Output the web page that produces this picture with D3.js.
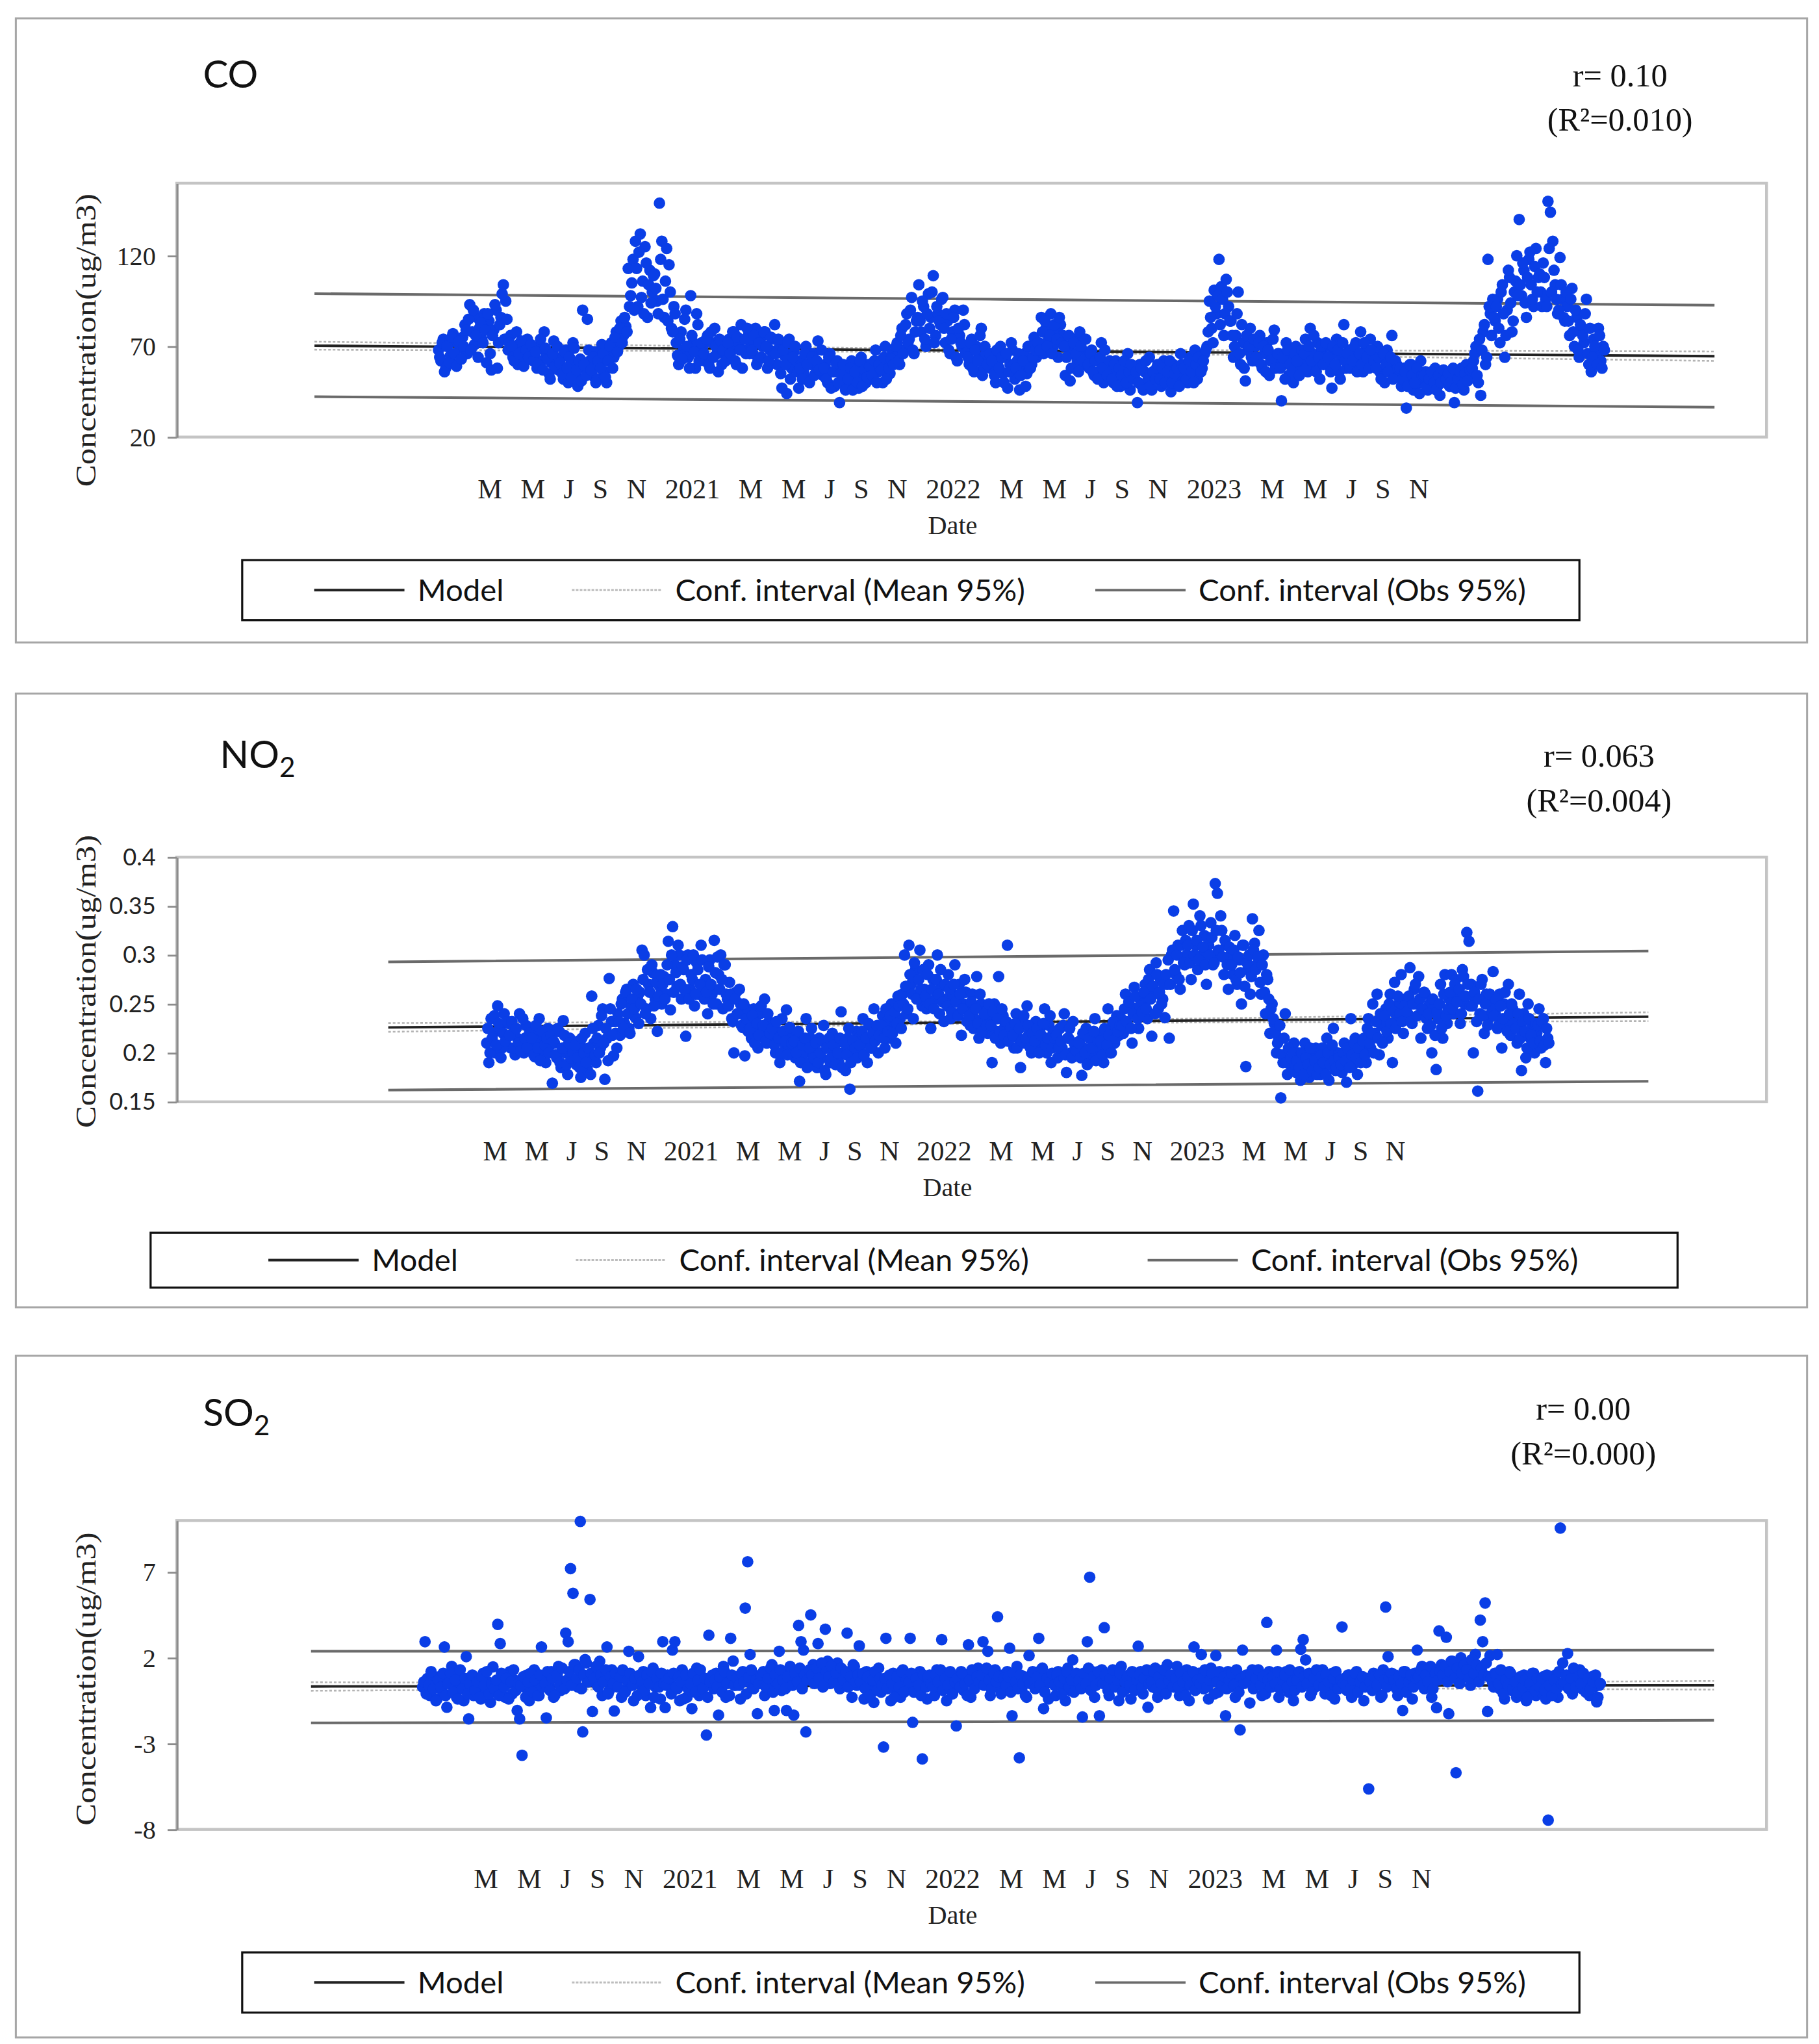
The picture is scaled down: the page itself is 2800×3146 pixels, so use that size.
<!DOCTYPE html>
<html>
<head>
<meta charset="utf-8">
<script src="https://cdn.jsdelivr.net/npm/d3@7"></script>
<style>
  body { margin: 0; background: #fff; }
  svg { display: block; }
</style>
</head>
<body>
<div id="chart"></div>
<script>
// x tick labels (same for all three panels)
const tickLabels = ["M", "M", "J", "S", "N", "2021", "M", "M", "J", "S", "N", "2022",
  "M", "M", "J", "S", "N", "2023", "M", "M", "J", "S", "N"];

// observations starting March 2020, one row per month.
// series A is read every 3 days, series B on the days in between.
const stepDays = 3;
const offsetB = 1.5;

const coValues = [
  68, 62, 74, 58, 71, 65, 77, 60, 72, 69,
  75, 82, 66, 93, 78, 71, 86, 80, 74, 88,
  61, 84, 57, 79, 90, 72, 86, 104, 95, 68,
  76, 64, 70, 60, 72, 67, 62, 74, 65, 69,
  64, 58, 70, 62, 78, 66, 55, 61, 73, 60,
  57, 64, 52, 68, 50, 60, 72, 55, 48, 63,
  90, 58, 85, 62, 54, 67, 52, 60, 71, 56,
  50, 66, 72, 64, 78, 70, 84, 76, 81, 113,
  98, 118, 128, 92, 132, 106, 125, 86, 112, 100,
  110, 95, 149, 128, 86, 124, 115, 80, 92, 72,
  60, 78, 68, 90, 64, 98, 72, 58, 82, 66,
  70, 62, 76, 58, 72, 80, 66, 74, 60, 70,
  64, 74, 70, 78, 60, 72, 82, 68, 66, 76,
  72, 66, 80, 62, 74, 70, 78, 58, 68, 74,
  82, 60, 70, 47, 65, 44, 74, 58, 67, 62,
  47, 62, 56, 70, 52, 60, 66, 55, 73, 58,
  54, 60, 50, 66, 56, 48, 62, 39, 58, 52,
  55, 48, 62, 52, 58, 47, 64, 54, 50, 60,
  58, 52, 68, 56, 62, 50, 70, 60, 55, 66,
  64, 72, 60, 80, 68, 88, 74, 97, 66, 84,
  104, 78, 92, 70, 99, 86, 109, 76, 88, 82,
  97, 72, 84, 66, 78, 90, 62, 76, 70, 82,
  68, 60, 74, 56, 70, 64, 80, 58, 66, 62,
  58, 66, 50, 62, 70, 55, 64, 47, 60, 68,
  52, 62, 46, 58, 66, 55, 70, 60, 75, 64,
  72, 86, 66, 80, 74, 88, 70, 78, 64, 82,
  76, 54, 70, 51, 66, 74, 62, 78, 68, 60,
  64, 58, 68, 54, 62, 56, 72, 50, 60, 58,
  56, 50, 62, 54, 48, 60, 52, 66, 46, 58,
  52, 39, 60, 48, 56, 50, 64, 46, 54, 58,
  56, 48, 62, 52, 58, 45, 60, 54, 50, 66,
  54, 60, 50, 64, 56, 68, 52, 62, 58, 66,
  70, 95, 80, 101, 88, 118, 103, 76, 107, 92,
  84, 64, 76, 100, 60, 72, 51, 68, 80, 62,
  70, 62, 76, 58, 66, 72, 54, 64, 79, 60,
  66, 40, 60, 72, 54, 64, 50, 70, 58, 62,
  62, 74, 56, 80, 66, 60, 72, 52, 68, 64,
  60, 70, 47, 66, 74, 56, 64, 82, 58, 68,
  66, 58, 72, 62, 78, 56, 68, 60, 74, 64,
  62, 70, 56, 64, 50, 68, 58, 76, 54, 60,
  54, 48, 58, 36, 52, 60, 46, 56, 50, 62,
  50, 56, 46, 54, 52, 58, 48, 43, 55, 51,
  52, 48, 56, 39, 54, 50, 58, 46, 60, 53,
  56, 62, 70, 50, 43, 78, 60, 118, 88, 96,
  84, 96, 72, 104, 64, 90, 108, 78, 100, 120,
  140, 98, 112, 86, 118, 104, 92, 124, 108, 100,
  116, 96, 150, 144, 128, 104, 88, 119, 96, 84,
  92, 76, 102, 70, 86, 64, 80, 72, 96, 60,
  56, 74, 66, 80, 62, 70
];

const coValuesB = [
  64, 72, 56, 70, 61, 75, 66, 59, 73, 63,
  70, 79, 85, 68, 90, 76, 64, 83, 72, 79,
  88, 66, 76, 93, 58, 82, 99, 74, 85, 72,
  70, 62, 78, 66, 73, 59, 68, 64, 71, 62,
  67, 60, 74, 57, 69, 63, 52, 66, 59, 70,
  61, 55, 67, 58, 64, 53, 69, 57, 62, 51,
  60, 54, 68, 57, 64, 50, 62, 58, 66, 53,
  62, 70, 58, 75, 67, 80, 72, 86, 78, 92,
  105, 90, 113, 122, 97, 88, 116, 104, 94, 109,
  102, 88, 118, 96, 106, 84, 100, 78, 88, 65,
  74, 63, 85, 70, 58, 76, 67, 88, 62, 72,
  66, 74, 60, 78, 64, 70, 56, 73, 68, 62,
  72, 66, 78, 62, 75, 68, 58, 74, 80, 66,
  68, 76, 60, 72, 64, 78, 70, 62, 75, 66,
  66, 74, 55, 68, 60, 72, 52, 64, 70, 56,
  58, 52, 66, 60, 50, 64, 54, 62, 57, 68,
  58, 52, 64, 47, 56, 61, 50, 55, 60, 46,
  52, 58, 46, 56, 50, 62, 48, 57, 53, 59,
  54, 62, 50, 60, 57, 64, 52, 58, 63, 60,
  70, 62, 76, 66, 82, 72, 90, 68, 78, 86,
  84, 95, 74, 88, 80, 100, 72, 92, 84, 96,
  80, 88, 68, 74, 86, 64, 80, 72, 90, 66,
  64, 72, 58, 68, 62, 76, 54, 70, 60, 66,
  62, 54, 68, 58, 64, 50, 66, 56, 72, 60,
  58, 66, 54, 62, 48, 70, 58, 64, 68, 72,
  68, 78, 84, 70, 76, 66, 82, 74, 86, 72,
  70, 64, 76, 58, 72, 66, 56, 70, 62, 74,
  60, 66, 56, 62, 52, 64, 58, 68, 54, 62,
  52, 60, 48, 58, 54, 62, 50, 56, 60, 52,
  56, 50, 58, 46, 62, 52, 48, 56, 52, 60,
  52, 58, 50, 56, 62, 50, 55, 58, 48, 60,
  58, 52, 62, 56, 50, 60, 64, 56, 62, 68,
  78, 86, 72, 92, 98, 82, 96, 88, 100, 84,
  76, 70, 88, 66, 82, 58, 76, 70, 64, 74,
  64, 72, 60, 70, 56, 68, 62, 74, 58, 66,
  58, 64, 52, 68, 60, 56, 66, 62, 54, 68,
  66, 58, 70, 62, 76, 56, 64, 70, 60, 72,
  64, 56, 70, 60, 68, 52, 72, 62, 66, 58,
  62, 70, 56, 66, 60, 72, 64, 58, 68, 62,
  58, 64, 52, 66, 60, 56, 64, 52, 62, 58,
  58, 52, 56, 48, 60, 54, 50, 58, 44, 54,
  54, 48, 52, 56, 50, 46, 54, 50, 57, 52,
  55, 50, 58, 47, 52, 56, 49, 55, 51, 57,
  58, 66, 54, 74, 68, 82, 64, 92, 76, 86,
  92, 80, 100, 88, 76, 112, 94, 84, 106, 98,
  104, 116, 94, 108, 122, 96, 114, 100, 110, 92,
  108, 92, 124, 100, 112, 96, 90, 104, 86, 100,
  84, 96, 78, 90, 68, 82, 76, 88, 66, 80,
  64, 70, 60, 76, 58, 68
];

const no2Values = [
  0.21, 0.19, 0.235, 0.22, 0.2, 0.248, 0.225, 0.205, 0.24, 0.215,
  0.23, 0.205, 0.22, 0.198, 0.215, 0.24, 0.21, 0.2, 0.228, 0.212,
  0.205, 0.22, 0.196, 0.212, 0.235, 0.2, 0.218, 0.19, 0.225, 0.208,
  0.169, 0.21, 0.195, 0.222, 0.185, 0.233, 0.2, 0.178, 0.215, 0.205,
  0.2, 0.188, 0.212, 0.175, 0.205, 0.22, 0.183, 0.196, 0.258, 0.21,
  0.19, 0.228, 0.205, 0.245, 0.173, 0.215, 0.276, 0.232, 0.197, 0.22,
  0.24, 0.218, 0.255, 0.23, 0.265, 0.225, 0.248, 0.27, 0.236, 0.258,
  0.262, 0.305, 0.3, 0.245, 0.27, 0.235, 0.282, 0.255, 0.222, 0.268,
  0.25, 0.278, 0.26, 0.314, 0.244, 0.329, 0.29, 0.268, 0.3, 0.255,
  0.285, 0.217, 0.3, 0.265, 0.275, 0.248, 0.292, 0.26, 0.31, 0.27,
  0.275, 0.24, 0.295, 0.26, 0.315, 0.25, 0.28, 0.3, 0.245, 0.29,
  0.255, 0.272, 0.235, 0.2, 0.262, 0.24, 0.25, 0.226, 0.197, 0.245,
  0.232, 0.215, 0.245, 0.225, 0.205, 0.24, 0.22, 0.255, 0.21, 0.232,
  0.215, 0.228, 0.2, 0.222, 0.19, 0.235, 0.21, 0.244, 0.205, 0.218,
  0.205, 0.195, 0.22, 0.171, 0.212, 0.2, 0.235, 0.19, 0.215, 0.198,
  0.2, 0.185, 0.215, 0.195, 0.228, 0.178, 0.205, 0.19, 0.22, 0.198,
  0.21, 0.19, 0.242, 0.2, 0.182, 0.215, 0.163, 0.205, 0.195, 0.222,
  0.215, 0.2, 0.235, 0.21, 0.19, 0.228, 0.205, 0.245, 0.218, 0.2,
  0.22, 0.238, 0.205, 0.232, 0.215, 0.25, 0.226, 0.21, 0.258, 0.235,
  0.26, 0.3, 0.24, 0.31, 0.27, 0.235, 0.285, 0.255, 0.305, 0.248,
  0.265, 0.245, 0.29, 0.225, 0.275, 0.255, 0.3, 0.24, 0.268, 0.232,
  0.255, 0.28, 0.235, 0.26, 0.29, 0.24, 0.27, 0.218, 0.25, 0.262,
  0.245, 0.228, 0.26, 0.235, 0.278, 0.215, 0.25, 0.232, 0.242, 0.22,
  0.235, 0.19, 0.25, 0.222, 0.278, 0.21, 0.238, 0.228, 0.31, 0.218,
  0.225, 0.205, 0.24, 0.215, 0.185, 0.232, 0.21, 0.248, 0.22, 0.2,
  0.218, 0.232, 0.205, 0.225, 0.212, 0.245, 0.2, 0.228, 0.19, 0.222,
  0.21, 0.195, 0.225, 0.205, 0.24, 0.18, 0.215, 0.2, 0.232, 0.21,
  0.2, 0.212, 0.177, 0.205, 0.225, 0.19, 0.215, 0.198, 0.235, 0.208,
  0.205, 0.22, 0.19, 0.215, 0.245, 0.2, 0.228, 0.21, 0.238, 0.218,
  0.235, 0.22, 0.26, 0.228, 0.248, 0.21, 0.267, 0.24, 0.225, 0.255,
  0.25, 0.27, 0.235, 0.285, 0.217, 0.26, 0.292, 0.245, 0.275, 0.255,
  0.236, 0.27, 0.215, 0.3, 0.345, 0.28, 0.31, 0.265, 0.325, 0.29,
  0.3, 0.33, 0.275, 0.352, 0.31, 0.285, 0.34, 0.3, 0.32, 0.27,
  0.31, 0.333, 0.29, 0.373, 0.363, 0.3, 0.325, 0.28, 0.31, 0.265,
  0.3, 0.28, 0.32, 0.27, 0.295, 0.25, 0.31, 0.186, 0.285, 0.26,
  0.337, 0.312, 0.29, 0.325, 0.26, 0.3, 0.24, 0.275, 0.22, 0.25,
  0.23, 0.2, 0.215, 0.154, 0.19, 0.24, 0.178, 0.205, 0.185, 0.21,
  0.18, 0.2, 0.172, 0.19, 0.21, 0.185, 0.175, 0.198, 0.182, 0.205,
  0.19, 0.178, 0.205, 0.185, 0.215, 0.172, 0.195, 0.225, 0.182, 0.2,
  0.195, 0.18, 0.21, 0.17, 0.2, 0.235, 0.188, 0.215, 0.178, 0.205,
  0.2, 0.215, 0.19, 0.235, 0.205, 0.25, 0.22, 0.26, 0.198, 0.228,
  0.23, 0.245, 0.215, 0.26, 0.19, 0.272, 0.235, 0.25, 0.28, 0.22,
  0.255, 0.24, 0.287, 0.23, 0.265, 0.25, 0.278, 0.215, 0.245, 0.26,
  0.225, 0.25, 0.2, 0.245, 0.183, 0.235, 0.27, 0.215, 0.28, 0.23,
  0.255, 0.28, 0.24, 0.275, 0.26, 0.23, 0.285, 0.25, 0.323, 0.314,
  0.27, 0.2, 0.255, 0.161, 0.24, 0.275, 0.22, 0.26, 0.235, 0.25,
  0.283, 0.24, 0.225, 0.26, 0.205, 0.25, 0.232, 0.27, 0.218, 0.245,
  0.23, 0.21, 0.26, 0.182, 0.24, 0.195, 0.25, 0.215, 0.228, 0.2,
  0.22, 0.245, 0.205, 0.235, 0.19, 0.215
];

const no2ValuesB = [
  0.225, 0.2, 0.215, 0.238, 0.208, 0.23, 0.195, 0.22, 0.212, 0.232,
  0.218, 0.232, 0.205, 0.225, 0.21, 0.202, 0.235, 0.215, 0.205, 0.22,
  0.215, 0.198, 0.228, 0.205, 0.192, 0.222, 0.208, 0.215, 0.2, 0.218,
  0.212, 0.198, 0.225, 0.19, 0.205, 0.218, 0.188, 0.21, 0.195, 0.2,
  0.208, 0.195, 0.185, 0.215, 0.2, 0.19, 0.205, 0.178, 0.225, 0.198,
  0.215, 0.2, 0.238, 0.21, 0.225, 0.192, 0.245, 0.218, 0.232, 0.205,
  0.232, 0.25, 0.225, 0.262, 0.24, 0.22, 0.255, 0.245, 0.265, 0.23,
  0.25, 0.275, 0.24, 0.285, 0.262, 0.29, 0.248, 0.272, 0.258, 0.28,
  0.27, 0.255, 0.29, 0.275, 0.3, 0.262, 0.282, 0.31, 0.27, 0.288,
  0.265, 0.295, 0.255, 0.28, 0.3, 0.26, 0.285, 0.27, 0.295, 0.255,
  0.262, 0.288, 0.27, 0.25, 0.282, 0.298, 0.265, 0.275, 0.29, 0.26,
  0.248, 0.26, 0.232, 0.255, 0.24, 0.265, 0.228, 0.25, 0.235, 0.222,
  0.225, 0.238, 0.21, 0.23, 0.218, 0.248, 0.228, 0.212, 0.24, 0.22,
  0.225, 0.208, 0.232, 0.215, 0.2, 0.222, 0.212, 0.198, 0.226, 0.21,
  0.212, 0.2, 0.222, 0.19, 0.208, 0.215, 0.185, 0.205, 0.225, 0.195,
  0.21, 0.19, 0.2, 0.212, 0.182, 0.205, 0.215, 0.195, 0.208, 0.188,
  0.2, 0.215, 0.185, 0.21, 0.198, 0.225, 0.19, 0.212, 0.205, 0.195,
  0.208, 0.222, 0.198, 0.215, 0.23, 0.205, 0.22, 0.212, 0.228, 0.218,
  0.228, 0.215, 0.245, 0.222, 0.238, 0.22, 0.242, 0.23, 0.248, 0.225,
  0.25, 0.268, 0.245, 0.28, 0.26, 0.292, 0.255, 0.275, 0.265, 0.285,
  0.258, 0.28, 0.25, 0.265, 0.245, 0.275, 0.26, 0.285, 0.252, 0.27,
  0.248, 0.265, 0.242, 0.27, 0.252, 0.238, 0.26, 0.245, 0.275, 0.232,
  0.238, 0.252, 0.225, 0.245, 0.23, 0.26, 0.222, 0.24, 0.228, 0.25,
  0.228, 0.242, 0.215, 0.235, 0.222, 0.245, 0.218, 0.232, 0.212, 0.226,
  0.218, 0.23, 0.205, 0.225, 0.212, 0.238, 0.215, 0.228, 0.205, 0.22,
  0.212, 0.225, 0.2, 0.218, 0.23, 0.208, 0.215, 0.238, 0.205, 0.215,
  0.218, 0.205, 0.212, 0.228, 0.198, 0.215, 0.225, 0.195, 0.21, 0.202,
  0.21, 0.195, 0.22, 0.2, 0.188, 0.215, 0.205, 0.222, 0.192, 0.212,
  0.212, 0.198, 0.225, 0.208, 0.218, 0.2, 0.232, 0.215, 0.222, 0.228,
  0.228, 0.245, 0.232, 0.252, 0.225, 0.24, 0.258, 0.235, 0.248, 0.242,
  0.262, 0.245, 0.275, 0.255, 0.268, 0.24, 0.28, 0.262, 0.25, 0.27,
  0.28, 0.295, 0.27, 0.305, 0.285, 0.3, 0.275, 0.31, 0.292, 0.315,
  0.31, 0.292, 0.325, 0.3, 0.315, 0.295, 0.33, 0.308, 0.29, 0.318,
  0.3, 0.318, 0.292, 0.325, 0.305, 0.34, 0.298, 0.315, 0.29, 0.308,
  0.29, 0.305, 0.275, 0.298, 0.282, 0.31, 0.268, 0.292, 0.3, 0.278,
  0.305, 0.285, 0.298, 0.272, 0.29, 0.262, 0.28, 0.255, 0.245, 0.235,
  0.222, 0.21, 0.228, 0.198, 0.215, 0.19, 0.205, 0.195, 0.2, 0.188,
  0.192, 0.185, 0.2, 0.178, 0.195, 0.188, 0.205, 0.182, 0.192, 0.178,
  0.185, 0.198, 0.19, 0.178, 0.2, 0.188, 0.208, 0.192, 0.185, 0.195,
  0.188, 0.2, 0.192, 0.205, 0.185, 0.198, 0.21, 0.195, 0.205, 0.19,
  0.212, 0.198, 0.225, 0.21, 0.22, 0.2, 0.232, 0.215, 0.24, 0.21,
  0.238, 0.222, 0.25, 0.23, 0.242, 0.225, 0.258, 0.24, 0.232, 0.248,
  0.242, 0.258, 0.232, 0.25, 0.27, 0.238, 0.255, 0.245, 0.262, 0.235,
  0.24, 0.228, 0.255, 0.218, 0.242, 0.25, 0.225, 0.26, 0.238, 0.245,
  0.262, 0.245, 0.27, 0.252, 0.265, 0.24, 0.278, 0.258, 0.27, 0.248,
  0.248, 0.262, 0.232, 0.255, 0.27, 0.238, 0.25, 0.228, 0.26, 0.242,
  0.238, 0.255, 0.228, 0.248, 0.235, 0.262, 0.222, 0.24, 0.25, 0.23,
  0.225, 0.24, 0.215, 0.232, 0.222, 0.205, 0.235, 0.218, 0.21, 0.23,
  0.228, 0.212, 0.232, 0.208, 0.225, 0.21
];

const so2Values = [
  0.3, 2.94, 0.8, -0.2, 1.0, 0.5, -0.4, 0.9, 0.1, 2.63,
  -0.88, 0.6, 1.5, 0.2, -0.3, 0.9, 0.4, -0.5, 2.07, -1.56,
  0.5, -0.2, 0.8, 0.3, -0.4, 1.1, 0.0, 0.6, -0.6, 1.47,
  0.4, 3.95, 2.83, 0.9, -0.3, 0.5, 1.2, -0.1, 0.7, -1.07,
  -1.56, -3.68, 0.3, 1.0, -0.5, 0.6, 1.3, 0.2, -0.2, 2.63,
  0.8, -1.5, 0.4, 1.2, -0.3, 0.9, 1.5, 0.1, 0.6, 3.44,
  2.94, 7.2, 5.76, 1.6, 0.3, 9.95, -2.32, 1.9, 0.6, 5.4,
  -1.13, 1.2, 0.4, 1.8, -0.2, 0.9, 2.63, 0.1, 1.3, -1.1,
  0.6, 1.1, -0.3, 0.8, 0.2, 2.38, 1.0, -0.5, 0.5, 2.07,
  0.4, 1.2, -0.2, 0.7, -0.9, 1.4, 0.3, 0.9, -0.4, 2.94,
  -0.9, 1.0, 0.5, 2.45, 2.94, 0.2, -0.5, 1.3, 0.6, -0.3,
  0.8, -0.96, 0.3, 1.4, -0.2, 0.9, 0.4, -2.5, 3.32, 0.7,
  0.2, 1.1, -1.34, 0.6, 1.5, -0.3, 0.8, 3.14, 1.81, 0.4,
  0.9, -0.4, 1.2, 4.9, 7.6, 2.19, 0.3, 1.0, -1.26, 0.5,
  0.7, -0.2, 1.1, 0.4, 1.6, -1.07, 0.9, 2.38, 0.1, 0.6,
  -1.07, 1.3, 0.5, -1.34, 0.8, 3.89, 2.94, 2.45, -2.32, 1.0,
  4.5, 1.6, 0.7, 2.83, 1.2, 0.3, 3.67, 1.8, 0.5, 1.1,
  0.9, 1.7, 0.2, 1.3, 0.6, 3.44, 1.0, -0.3, 1.5, 0.4,
  2.7, 0.8, -0.4, 1.2, 0.3, 0.9, -0.6, 0.5, 1.4, 0.0,
  -3.2, 3.14, 0.6, -0.5, 1.1, 0.2, 0.8, -0.3, 1.3, 0.5,
  0.4, 3.14, -1.76, 0.9, 0.1, 1.2, -3.89, 0.6, -0.4, 1.0,
  0.7, -0.2, 1.3, 0.4, 3.06, 0.9, -0.5, 1.1, 0.2, 0.8,
  -1.97, 0.6, 1.2, 0.1, 0.9, 2.76, -0.3, 1.0, 0.4, 1.4,
  0.5, 2.94, 1.1, 2.38, -0.2, 0.8, 1.3, 4.39, 0.3, 1.0,
  0.6, 1.2, 2.56, -1.38, 0.4, 1.5, -3.83, 0.2, 0.9, -0.3,
  2.13, 0.7, 1.1, 0.3, 3.14, 1.3, -0.96, 0.5, -0.4, 1.0,
  0.8, -0.2, 1.2, 0.4, 0.9, -0.5, 1.4, 0.1, 1.88, 0.6,
  0.3, 1.0, -1.45, 0.6, 2.94, 6.7, 1.2, -0.3, 0.8, -1.38,
  1.3, 3.76, 0.5, -0.2, 1.1, 0.4, 0.9, -0.5, 1.5, 0.7,
  0.2, 1.0, -0.4, 0.8, 0.5, 2.68, 1.2, -0.1, 0.6, -0.88,
  1.0, 0.3, 1.4, -0.3, 0.7, 1.1, 0.0, 1.6, 0.4, 0.9,
  0.6, 1.5, -0.2, 1.0, 0.3, 1.3, -0.5, 0.8, 2.63, 0.4,
  1.1, 2.19, 0.2, 0.9, -0.4, 1.4, 0.6, 2.13, 0.0, 1.0,
  0.5, -1.38, 1.2, 0.3, 0.8, -0.3, 1.0, -2.2, 2.45, 0.6,
  0.9, -0.63, 1.3, 0.4, 0.7, 1.1, -0.2, 0.6, 4.06, 1.2,
  0.3, 1.0, 2.45, -0.3, 0.8, 0.5, 1.2, 0.0, 0.7, -0.5,
  1.1, 0.4, 2.5, 3.06, 1.88, 0.6, -0.2, 1.0, 0.3, 0.8,
  0.5, 1.3, -0.1, 0.9, 0.2, 1.1, -0.4, 0.7, 0.4, 3.8,
  0.8, 0.1, 1.0, -0.3, 0.6, 1.2, 0.3, 0.9, -0.5, 0.5,
  -5.64, 0.7, 1.1, 0.2, 0.9, -0.3, 1.3, 4.96, 2.07, 0.5,
  0.4, 1.0, -0.2, 0.8, -1.07, 1.2, 0.3, 0.7, -0.4, 1.1,
  2.45, 0.6, 1.5, 0.2, 1.1, 0.8, -0.3, 1.3, -0.91, 3.57,
  1.6, 0.9, 3.2, -1.26, 1.8, 1.2, -4.7, 0.7, 2.0, 1.4,
  0.9, 1.7, 0.4, 1.3, 2.2, 1.0, 4.2, 2.94, 5.2, -1.13,
  2.13, 0.6, 1.1, 2.19, 0.2, 0.9, -0.4, 0.5, 1.2, 0.1,
  0.4, -0.3, 0.8, 0.1, 1.0, -0.5, 0.6, 0.2, 1.1, -0.2,
  0.5, 0.0, 0.9, -0.4, -7.46, 0.7, 0.2, 1.0, -0.3, 9.56,
  1.7, 0.4, 2.25, 0.8, -0.1, 1.1, 0.5, 1.3, 0.2, 0.9,
  0.6, -0.2, 0.9, 0.3, -0.57, 0.4
];

const so2ValuesB = [
  0.6, -0.1, 0.4, 1.2, 0.2, -0.5, 0.7, 0.3, 1.1, -0.2,
  0.5, 1.1, 0.0, 0.7, -0.4, 1.3, 0.2, 0.8, -0.1, 0.5,
  1.0, 0.1, 0.6, -0.3, 0.9, 0.4, 1.2, -0.1, 0.5, 0.2,
  0.7, -0.2, 1.1, 0.3, 0.8, -0.4, 0.6, 1.3, 0.1, 0.5,
  0.4, 0.9, -0.3, 0.6, 1.1, 0.0, 0.7, -0.2, 1.0, 0.3,
  0.5, 1.2, 0.1, 0.8, -0.2, 1.0, 0.4, 1.4, 0.2, 0.7,
  1.2, 0.4, 1.6, 0.8, 1.3, 0.2, 1.0, 1.7, 0.6, 1.1,
  0.8, 1.5, 0.3, 1.0, 0.6, 1.3, -0.1, 0.9, 0.5, 1.1,
  0.3, 0.9, 1.3, 0.0, 0.7, 1.1, 0.4, 0.8, -0.2, 1.0,
  0.6, 0.1, 1.0, 0.5, 1.2, -0.3, 0.8, 0.3, 1.1, 0.5,
  0.4, 0.8, -0.1, 1.1, 0.3, 0.9, 0.6, -0.4, 1.0, 0.2,
  0.5, 1.1, 0.0, 0.7, 1.3, 0.2, 0.8, -0.3, 0.6, 1.0,
  0.7, 0.3, 0.9, 0.0, 1.2, 0.5, -0.2, 1.0, 0.4, 0.8,
  0.4, 1.1, 0.6, -0.1, 0.9, 1.3, 0.2, 0.7, 0.5, 1.0,
  1.2, 0.3, 0.8, 1.4, 0.0, 1.0, 0.5, 1.3, 0.7, 0.2,
  0.9, 1.5, 0.4, 1.1, 0.6, 1.4, 0.2, 1.0, 0.7, 1.3,
  1.0, 0.5, 1.4, 0.8, 1.7, 0.4, 1.2, 0.9, 1.5, 0.6,
  1.1, 0.5, 1.4, 0.7, 1.2, 0.3, 0.9, 1.6, 0.6, 1.0,
  0.6, 1.1, 0.2, 0.9, -0.2, 0.7, 1.2, 0.1, 0.8, 0.4,
  0.8, 0.2, 1.0, 0.5, -0.3, 0.9, 0.3, 1.2, 0.0, 0.7,
  0.6, 1.1, 0.0, 0.8, 0.4, -0.2, 1.0, 0.3, 0.9, 0.5,
  0.3, 1.0, 0.6, 1.3, 0.1, 0.8, 0.4, 1.2, -0.1, 0.6,
  0.8, 0.3, 1.1, 0.5, -0.2, 0.7, 1.3, 0.2, 0.9, 0.6,
  1.0, 0.4, 1.4, 0.7, 0.2, 1.1, 0.6, 0.9, -0.1, 0.8,
  0.4, 0.9, 0.0, 1.1, 0.6, 0.2, 1.0, 0.5, -0.2, 0.8,
  0.5, 1.2, 0.2, 0.9, 0.4, 1.4, 0.0, 0.8, 0.6, 1.1,
  0.4, 1.0, 0.6, -0.1, 0.8, 1.2, 0.3, 0.7, 0.0, 1.1,
  0.7, 0.2, 1.1, 0.5, 1.4, 0.1, 0.9, 0.4, 1.2, 0.6,
  0.5, 1.0, 0.1, 0.8, 1.3, 0.3, 0.7, 1.1, 0.0, 0.6,
  0.9, 0.4, 1.2, 0.1, 0.7, 1.0, 0.3, 0.8, 1.3, 0.5,
  0.6, 1.2, 0.2, 0.9, 0.5, 1.3, -0.1, 0.7, 1.0, 0.3,
  0.8, 0.3, 1.1, 0.6, -0.2, 0.9, 0.4, 1.2, 0.1, 0.7,
  0.5, 0.8, 1.3, 0.3, 0.7, 1.1, -0.1, 0.6, 1.2, 0.4,
  0.9, 0.2, 0.7, 1.1, 0.4, 1.3, 0.0, 0.8, 0.5, 1.0,
  0.6, 1.0, 0.2, 0.8, 1.3, 0.4, 0.9, -0.1, 0.7, 0.3,
  0.9, 0.5, 1.2, 0.2, 0.7, 1.0, 0.3, 1.3, 0.6, 0.1,
  0.7, 1.2, 0.3, 0.9, 0.5, 1.1, 0.0, 0.8, 1.3, 0.4,
  0.9, 0.3, 1.0, 0.6, -0.2, 0.8, 1.2, 0.2, 0.7, 0.5,
  0.4, 1.0, 0.2, 0.7, 1.1, 0.0, 0.6, 0.9, 0.3, 0.8,
  0.6, 0.1, 0.9, 0.4, 1.0, -0.2, 0.7, 0.3, 0.8, 1.1,
  0.7, 0.2, 0.9, 0.5, 1.2, 0.0, 0.6, 1.0, 0.3, 0.8,
  0.9, 1.3, 0.4, 1.0, 0.6, 1.5, 0.2, 1.1, 0.7, 1.2,
  1.0, 1.5, 0.6, 1.2, 1.8, 0.8, 1.4, 0.5, 1.1, 1.6,
  1.3, 0.8, 1.9, 1.1, 1.6, 0.6, 1.4, 1.0, 1.7, 0.9,
  0.8, 0.3, 1.0, 0.5, 1.3, -0.1, 0.7, 0.4, 1.1, 0.2,
  0.6, 0.0, 0.9, 0.3, 0.7, -0.3, 0.5, 1.1, 0.1, 0.8,
  0.3, 0.8, 0.1, 1.0, 0.4, -0.2, 0.7, 0.2, 1.2, 0.5,
  0.6, 1.0, 0.2, 0.8, 1.4, 0.3, 0.9, 0.5, 1.1, 0.0,
  0.8, 0.2, 0.6, 1.0, -0.3, 0.5
];

// regression model and confidence bands (day -> value), start / middle / end
const coLineDays = [-155, 720, 1594];
const coModel = [70.4, 67.5, 64.6];
const coMeanUp = [72.6, 68.2, 67.2];
const coMeanLo = [68.2, 66.8, 62.0];
const coObsUp = [99.1, 95.9, 92.7];
const coObsLo = [42.3, 39.4, 36.5];

const no2LineDays = [-135, 729, 1593];
const no2Model = [0.226, 0.2315, 0.237];
const no2MeanUp = [0.2305, 0.2325, 0.2415];
const no2MeanLo = [0.2215, 0.2305, 0.2325];
const no2ObsUp = [0.293, 0.2985, 0.304];
const no2ObsLo = [0.162, 0.1665, 0.171];

const so2LineDays = [-138, 729, 1597];
const so2Model = [0.33, 0.365, 0.4];
const so2MeanUp = [0.58, 0.44, 0.65];
const so2MeanLo = [0.08, 0.29, 0.15];
const so2ObsUp = [2.38, 2.41, 2.45];
const so2ObsLo = [-1.79, -1.72, -1.64];

const legendLabels = ["Model", "Conf. interval (Mean 95%)", "Conf. interval (Obs 95%)"];

const W = 1390, H = 1562;
const serif = "'Liberation Serif', 'Times New Roman', serif";
const sans = "Lato, 'Open Sans', sans-serif";
const dotColor = "#0a3ee6";

const panels = [
  {
    title: "CO", sub: null, r: "r= 0.10", r2: "(R\u00b2=0.010)",
    values: coValues, valuesB: coValuesB, lineDays: coLineDays,
    model: coModel, meanUp: coMeanUp, meanLo: coMeanLo, obsUp: coObsUp, obsLo: coObsLo,
    yDomain: [20, 160], yTicks: [20, 70, 120], yFont: serif, yFontSize: 20,
    frame: [12, 14, 1369, 477], plot: [135, 140, 1350, 334], dayDomain: [-327, 1659],
    titlePos: [155, 67], rPos: [1238, 66], yTitleY: 260,
    xLabY: 381, xLabSpan: [365, 1092], datePos: [728, 408],
    legend: { box: [185, 428, 1022, 46], lineX: [240, 437, 837], textX: [319, 516, 916] }
  },
  {
    title: "NO", sub: "2", r: "r= 0.063", r2: "(R\u00b2=0.004)",
    values: no2Values, valuesB: no2ValuesB, lineDays: no2LineDays,
    model: no2Model, meanUp: no2MeanUp, meanLo: no2MeanLo, obsUp: no2ObsUp, obsLo: no2ObsLo,
    yDomain: [0.15, 0.4], yTicks: [0.15, 0.2, 0.25, 0.3, 0.35, 0.4], yFont: sans, yFontSize: 18,
    frame: [12, 530, 1369, 469], plot: [135, 655, 1350, 842], dayDomain: [-425, 1755],
    titlePos: [168, 587], rPos: [1222, 586], yTitleY: 750,
    xLabY: 887, xLabSpan: [369, 1074], datePos: [724, 914],
    legend: { box: [115, 942, 1167, 42], lineX: [205, 440, 877], textX: [284, 519, 956] }
  },
  {
    title: "SO", sub: "2", r: "r= 0.00", r2: "(R\u00b2=0.000)",
    values: so2Values, valuesB: so2ValuesB, lineDays: so2LineDays,
    model: so2Model, meanUp: so2MeanUp, meanLo: so2MeanLo, obsUp: so2ObsUp, obsLo: so2ObsLo,
    yDomain: [-8, 10], yTicks: [-8, -3, 2, 7], yFont: serif, yFontSize: 20,
    frame: [12, 1036, 1369, 521], plot: [135, 1162, 1350, 1398], dayDomain: [-304, 1662],
    titlePos: [155, 1090], rPos: [1210, 1085], yTitleY: 1283,
    xLabY: 1443, xLabSpan: [362, 1094], datePos: [728, 1470],
    legend: { box: [185, 1492, 1022, 46], lineX: [240, 437, 837], textX: [319, 516, 916] }
  }
];

const svg = d3.select("#chart").append("svg")
  .attr("width", 2800).attr("height", 3146)
  .attr("viewBox", [0, 0, W, H]);

svg.append("rect").attr("width", W).attr("height", H).attr("fill", "#fff");

panels.forEach((p) => {
  const g = svg.append("g");
  const [px0, py0, px1, py1] = p.plot;

  const x = d3.scaleLinear().domain(p.dayDomain).range([px0, px1]);
  const y = d3.scaleLinear().domain(p.yDomain).range([py1, py0]);

  // outer frame
  g.append("rect")
    .attr("x", p.frame[0]).attr("y", p.frame[1])
    .attr("width", p.frame[2]).attr("height", p.frame[3])
    .attr("fill", "none").attr("stroke", "#a6a6a6").attr("stroke-width", 1.5);

  // title with optional subscript
  const t = g.append("text")
    .attr("x", p.titlePos[0]).attr("y", p.titlePos[1])
    .attr("font-family", sans).attr("font-size", 29).attr("fill", "#111")
    .text(p.title);
  if (p.sub) t.append("tspan").attr("dy", 7).attr("font-size", 21).text(p.sub);

  g.append("text")
    .attr("x", p.rPos[0]).attr("y", p.rPos[1]).attr("text-anchor", "middle")
    .attr("font-family", serif).attr("font-size", 25).attr("fill", "#111")
    .text(p.r);
  g.append("text")
    .attr("x", p.rPos[0]).attr("y", p.rPos[1] + 34).attr("text-anchor", "middle")
    .attr("font-family", serif).attr("font-size", 25).attr("fill", "#111")
    .text(p.r2);

  // plot area box
  g.append("rect")
    .attr("x", px0).attr("y", py0).attr("width", px1 - px0).attr("height", py1 - py0)
    .attr("fill", "none").attr("stroke", "#c4c4c4").attr("stroke-width", 2.2);

  // y axis
  g.append("g")
    .attr("transform", `translate(${px0},0)`)
    .call(d3.axisLeft(y).tickValues(p.yTicks).tickSize(7).tickSizeOuter(0).tickPadding(9)
      .tickFormat((d) => String(+d.toFixed(2))))
    .call((a) => a.select(".domain").attr("stroke", "#8c8c8c").attr("stroke-width", 1.6))
    .call((a) => a.selectAll(".tick line").attr("stroke", "#8c8c8c").attr("stroke-width", 1.4))
    .call((a) => a.selectAll(".tick text")
      .attr("font-family", p.yFont).attr("font-size", p.yFontSize).attr("fill", "#222"));

  g.append("text")
    .attr("transform", `translate(65,${p.yTitleY}) rotate(-90)`)
    .attr("text-anchor", "middle").attr("dy", "0.35em")
    .attr("font-family", serif).attr("font-size", 22).attr("fill", "#222")
    .attr("textLength", 224).attr("lengthAdjust", "spacingAndGlyphs")
    .text("Concentration(ug/m3)");

  // trend lines
  const line = d3.line().x((d) => x(d[0])).y((d) => y(d[1]));
  const pts = (vals) => p.lineDays.map((d, i) => [d, vals[i]]);
  [
    { v: p.obsUp, stroke: "#6a6a6a", w: 2, dash: null },
    { v: p.obsLo, stroke: "#6a6a6a", w: 2, dash: null },
    { v: p.meanUp, stroke: "#b4b4b4", w: 1.3, dash: "2,1.5" },
    { v: p.meanLo, stroke: "#b4b4b4", w: 1.3, dash: "2,1.5" },
    { v: p.model, stroke: "#222", w: 1.9, dash: null }
  ].forEach((s) => {
    g.append("path")
      .datum(pts(s.v))
      .attr("fill", "none")
      .attr("stroke", s.stroke)
      .attr("stroke-width", s.w)
      .attr("stroke-dasharray", s.dash)
      .attr("d", line);
  });

  // observations
  const obs = p.values.map((v, i) => ({ day: i * stepDays, v }))
    .concat(p.valuesB.map((v, i) => ({ day: i * stepDays + offsetB, v })));
  g.append("g")
    .selectAll("circle")
    .data(obs)
    .join("circle")
    .attr("cx", (d) => x(d.day))
    .attr("cy", (d) => y(d.v))
    .attr("r", 4.4)
    .attr("fill", dotColor);

  // x labels: set as one line of text with equal gaps, like the original
  const xt = g.append("text")
    .attr("x", p.xLabSpan[0]).attr("y", p.xLabY)
    .attr("font-family", serif).attr("font-size", 21).attr("fill", "#222");
  const spans = xt.selectAll("tspan").data(tickLabels).join("tspan").text((d) => d);
  const gap = (p.xLabSpan[1] - p.xLabSpan[0] - xt.node().getComputedTextLength()) / (tickLabels.length - 1);
  spans.attr("dx", (d, i) => (i === 0 ? 0 : gap));

  g.append("text")
    .attr("x", p.datePos[0]).attr("y", p.datePos[1]).attr("text-anchor", "middle")
    .attr("font-family", serif).attr("font-size", 20).attr("fill", "#222")
    .text("Date");

  // legend
  const L = p.legend;
  g.append("rect")
    .attr("x", L.box[0]).attr("y", L.box[1]).attr("width", L.box[2]).attr("height", L.box[3])
    .attr("fill", "#fff").attr("stroke", "#111").attr("stroke-width", 1.6);
  const ly = L.box[1] + L.box[3] / 2;
  const lstyle = [
    { stroke: "#222", w: 2, dash: null },
    { stroke: "#bdbdbd", w: 1.5, dash: "2,1" },
    { stroke: "#6a6a6a", w: 1.8, dash: null }
  ];
  legendLabels.forEach((lab, i) => {
    g.append("line")
      .attr("x1", L.lineX[i]).attr("x2", L.lineX[i] + 69)
      .attr("y1", ly).attr("y2", ly)
      .attr("stroke", lstyle[i].stroke).attr("stroke-width", lstyle[i].w)
      .attr("stroke-dasharray", lstyle[i].dash);
    g.append("text")
      .attr("x", L.textX[i]).attr("y", ly).attr("dy", "0.35em")
      .attr("font-family", sans).attr("font-size", 23.5).attr("fill", "#111")
      .text(lab);
  });
});
</script>
</body>
</html>
